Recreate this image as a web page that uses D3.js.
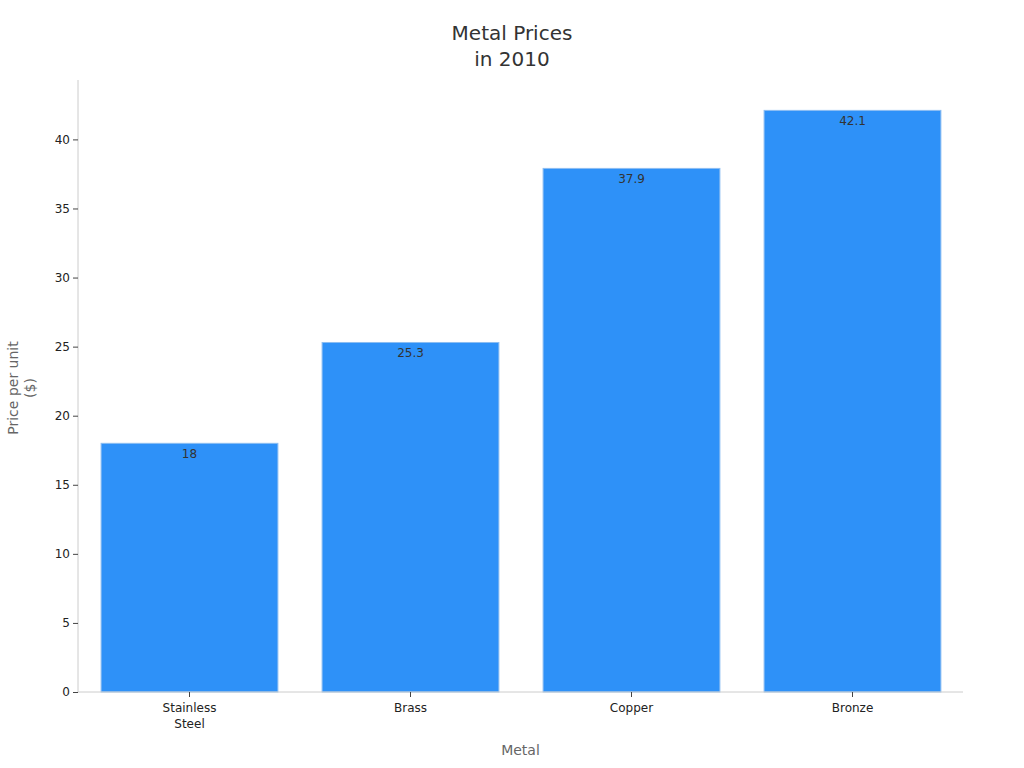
<!DOCTYPE html>
<html>
<head>
<meta charset="utf-8">
<script src="https://cdn.jsdelivr.net/npm/d3@7"></script>
<style>
  body { margin: 0; background: #fff; }
  svg { font-family: "DejaVu Sans", sans-serif; }
</style>
</head>
<body>
<div id="chart"></div>
<script>
const metals = ["Stainless Steel", "Brass", "Copper", "Bronze"];
const prices = [18, 25.3, 37.9, 42.1];
const yTicks = [0, 5, 10, 15, 20, 25, 30, 35, 40];
const titleLines = ["Metal Prices", "in 2010"];

const width = 1024, height = 768;
const margin = { top: 80, right: 61, bottom: 76, left: 78 };

const svg = d3.select("#chart").append("svg")
  .attr("width", width)
  .attr("height", height);

const x = d3.scaleBand()
  .domain(metals)
  .range([margin.left + 1, width - margin.right])
  .paddingInner(0.2)
  .paddingOuter(0.1);

const y = d3.scaleLinear()
  .domain([0, 44.3])
  .range([height - margin.bottom, margin.top]);

// title
svg.append("text")
  .attr("x", 512)
  .attr("text-anchor", "middle")
  .style("font-size", "20px")
  .style("fill", "#333")
  .selectAll("tspan")
  .data(titleLines)
  .enter()
  .append("tspan")
  .attr("x", 512)
  .attr("y", (d, i) => 40 + i * 26)
  .text(d => d);

// bars
svg.selectAll("rect.bar")
  .data(prices)
  .enter()
  .append("rect")
  .attr("class", "bar")
  .attr("x", (d, i) => x(metals[i]))
  .attr("y", d => y(d))
  .attr("width", x.bandwidth())
  .attr("height", d => y(0) - y(d))
  .attr("fill", "#2e91f8")
  .attr("stroke", "#8cbdf2")
  .attr("stroke-width", 1);

// value labels
svg.selectAll("text.val")
  .data(prices)
  .enter()
  .append("text")
  .attr("class", "val")
  .attr("x", (d, i) => x(metals[i]) + x.bandwidth() / 2)
  .attr("y", d => y(d) + 15)
  .attr("text-anchor", "middle")
  .style("font-size", "12px")
  .style("fill", "#333")
  .text(d => d);

// y axis
const yAxis = svg.append("g")
  .attr("transform", `translate(${margin.left},0)`)
  .call(d3.axisLeft(y).tickValues(yTicks).tickSize(5).tickSizeOuter(0))
  .attr("font-family", "DejaVu Sans, sans-serif");
yAxis.select(".domain").attr("stroke", "#ccc")
  .attr("d", `M0,${margin.top}V${height - margin.bottom}`);
yAxis.selectAll(".tick line").attr("stroke", "#444");
yAxis.selectAll(".tick text")
  .style("font-size", "12px")
  .style("fill", "#222")
  .attr("x", -8);

// x axis
const xAxis = svg.append("g")
  .attr("transform", `translate(0,${height - margin.bottom})`)
  .call(d3.axisBottom(x).tickSize(5).tickSizeOuter(0))
  .attr("font-family", "DejaVu Sans, sans-serif");
xAxis.select(".domain").attr("stroke", "#ccc")
  .attr("d", `M${margin.left},0H${width - margin.right}`);
xAxis.selectAll(".tick line").attr("stroke", "#444");
xAxis.selectAll(".tick text")
  .style("font-size", "12px")
  .style("fill", "#222")
  .text(null)
  .each(function (d) {
    const words = d.split(" ");
    const t = d3.select(this);
    words.forEach((w, i) => {
      t.append("tspan")
        .attr("x", 0)
        .attr("dy", i === 0 ? "0.71em" : "1.35em")
        .text(w);
    });
  })
  .attr("y", 11)
  .attr("dy", null);

// axis titles
svg.append("text")
  .attr("x", (margin.left + width - margin.right) / 2)
  .attr("y", 755)
  .attr("text-anchor", "middle")
  .style("font-size", "14px")
  .style("fill", "#666")
  .text("Metal");

const yTitle = svg.append("text")
  .attr("transform", `translate(18,${(margin.top + height - margin.bottom) / 2 + 2}) rotate(-90)`)
  .attr("text-anchor", "middle")
  .style("font-size", "14px")
  .style("fill", "#666");
yTitle.append("tspan").attr("x", 0).attr("y", 0).text("Price per unit");
yTitle.append("tspan").attr("x", 0).attr("y", 17).text("($)");
</script>
</body>
</html>
